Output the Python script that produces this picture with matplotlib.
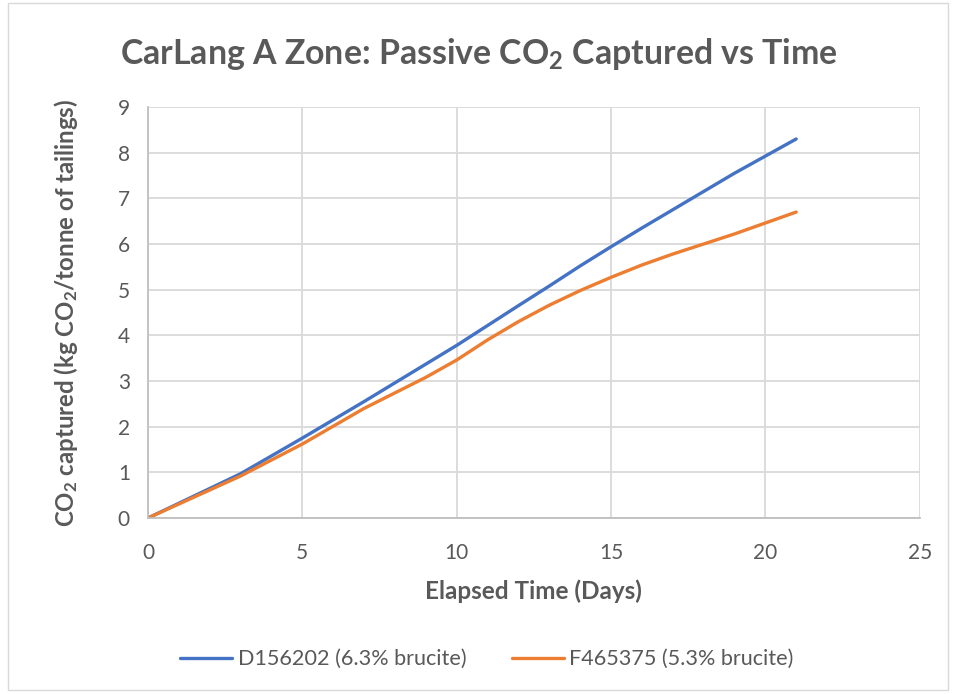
import matplotlib
matplotlib.use("Agg")
import matplotlib.pyplot as plt
from matplotlib.patches import Rectangle

# values
days_d = [0, 3, 5, 7, 10, 12, 13, 14, 15, 16, 17, 19, 21]
co2_d = [0, 0.97, 1.75, 2.55, 3.78, 4.65, 5.08, 5.52, 5.94, 6.35, 6.75, 7.55, 8.3]
days_f = [0, 3, 5, 7, 9, 10, 11, 12, 13, 14, 15, 16, 17, 19, 21]
co2_f = [0, 0.92, 1.62, 2.4, 3.08, 3.46, 3.9, 4.3, 4.66, 4.98, 5.27, 5.54, 5.78, 6.22, 6.7]
label_d = "D156202 (6.3% brucite)"
label_f = "F465375 (5.3% brucite)"

plt.rcParams['font.family'] = ['Lato', 'DejaVu Sans']
plt.rcParams['mathtext.default'] = 'regular'

grey = '#595959'

fig = plt.figure(figsize=(9.55, 6.94), dpi=100)
ax = fig.add_axes([0.155, 0.2536, 0.808, 0.5922])

ax.plot(days_d, co2_d, color='#4472C4', lw=2.4, label=label_d,
        solid_capstyle='round', solid_joinstyle='round')
ax.plot(days_f, co2_f, color='#ED7D31', lw=2.4, label=label_f,
        solid_capstyle='round', solid_joinstyle='round')

ax.set_xlim(0, 25)
ax.set_ylim(0, 9)
ax.set_xticks(range(0, 26, 5))
ax.set_yticks(range(0, 10))
ax.grid(True, color='#d9d9d9', lw=1.3)
ax.set_axisbelow(True)
for s in ['top', 'right']:
    ax.spines[s].set_visible(False)
for s in ['left', 'bottom']:
    ax.spines[s].set_color('#bfbfbf')
    ax.spines[s].set_linewidth(1.3)
ax.tick_params(length=0, labelsize=15, labelcolor=grey)
ax.tick_params(axis='x', pad=18)
ax.tick_params(axis='y', pad=13)

ax.set_xlabel("Elapsed Time (Days)", fontsize=17.5, fontweight='bold', color=grey, labelpad=12)
ax.set_ylabel(r"CO$_2$ captured (kg CO$_2$/tonne of tailings)", fontsize=17.3,
              fontweight='bold', color=grey, labelpad=27)

fig.text(0.502, 0.922, r"CarLang A Zone: Passive CO$_2$ Captured vs Time", ha='center',
         va='center', fontsize=24.4, fontweight='bold', color=grey)

fig.legend(loc='center', bbox_to_anchor=(0.51, 0.05), ncol=2, frameon=False,
           fontsize=15.6, labelcolor=grey, handlelength=2.4, columnspacing=2.1,
           handletextpad=0.25)

fig.patches.append(Rectangle((0.008, 0.006), 0.985, 0.99, transform=fig.transFigure,
                             fill=False, edgecolor='#d9d9d9', lw=1))

fig.savefig("out.png", dpi=100)
